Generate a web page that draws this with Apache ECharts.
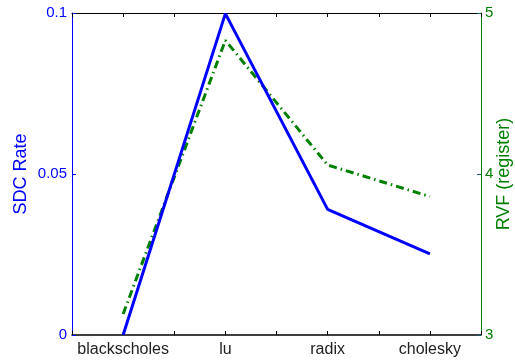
<!DOCTYPE html>
<html>
<head>
<meta charset="utf-8">
<script src="https://cdn.jsdelivr.net/npm/echarts@6/dist/echarts.min.js"></script>
<style>
  html, body { margin: 0; padding: 0; background: #fff; overflow: hidden; }
  #chart { width: 515px; height: 362px; }
</style>
</head>
<body>
<div id="chart"></div>
<script>
// Benchmarks along the x axis
const categories = ['blackscholes', 'lu', 'radix', 'cholesky'];
// Silent data corruption rate (left axis)
const sdcRate = [0, 0.0998, 0.039, 0.0252];
// Register vulnerability factor (right axis)
const rvfRegister = [3.13, 4.83, 4.056, 3.86];
// Tick settings
const leftTicks = { min: 0, max: 0.1, interval: 0.05 };
const rightTicks = { min: 3, max: 5, interval: 1 };

const FONT = 'Liberation Sans, Arial, sans-serif';
const BLUE = '#0000ff';
const GREEN = '#008000';

const chart = echarts.init(document.getElementById('chart'), null, { renderer: 'canvas' });

const xBase = {
  type: 'value',
  min: 0.5,
  max: 4.5,
  interval: 0.5,
  splitLine: { show: false },
  axisLine: { lineStyle: { color: '#000', width: 1.5 } },
  axisTick: { inside: true, length: 4, lineStyle: { color: '#000', width: 1 } }
};

chart.setOption({
  animation: false,
  grid: { left: 72, right: 34, top: 13, bottom: 27, containLabel: false, outerBoundsMode: 'none' },
  xAxis: [
    Object.assign({}, xBase, {
      position: 'bottom',
      axisLabel: {
        color: '#222',
        fontFamily: FONT,
        fontSize: 16,
        margin: 7,
        formatter: v => Number.isInteger(v) ? categories[v - 1] : ''
      }
    }),
    Object.assign({}, xBase, {
      position: 'top',
      axisLine: { lineStyle: { color: '#000', width: 1 } },
      axisLabel: { show: false }
    })
  ],
  yAxis: [
    {
      type: 'value',
      position: 'left',
      min: leftTicks.min,
      max: leftTicks.max,
      interval: leftTicks.interval,
      name: 'SDC Rate',
      nameLocation: 'middle',
      nameRotate: 90,
      nameGap: 42,
      nameMoveOverlap: false,
      nameTextStyle: { color: BLUE, fontFamily: FONT, fontSize: 18 },
      splitLine: { show: false },
      axisLine: { show: true, lineStyle: { color: BLUE, width: 1 } },
      axisTick: { show: true, inside: true, length: 4, lineStyle: { color: BLUE } },
      axisLabel: {
        color: BLUE, fontFamily: FONT, fontSize: 15, margin: 5,
        formatter: v => String(Math.round(v * 100) / 100)
      }
    },
    {
      type: 'value',
      position: 'right',
      min: rightTicks.min,
      max: rightTicks.max,
      interval: rightTicks.interval,
      name: 'RVF (register)',
      nameLocation: 'middle',
      nameRotate: 90,
      nameGap: 14,
      nameMoveOverlap: false,
      nameTextStyle: { color: GREEN, fontFamily: FONT, fontSize: 18 },
      splitLine: { show: false },
      axisLine: { show: true, lineStyle: { color: GREEN, width: 1 } },
      axisTick: { show: true, inside: true, length: 4, lineStyle: { color: '#1a5a6a' } },
      axisLabel: { color: GREEN, fontFamily: FONT, fontSize: 15, margin: 4 }
    }
  ],
  series: [
    {
      name: 'SDC Rate',
      type: 'line',
      xAxisIndex: 0,
      yAxisIndex: 0,
      symbol: 'none',
      data: sdcRate.map((v, i) => [i + 1, v]),
      lineStyle: { color: BLUE, width: 3 },
      z: 3
    },
    {
      name: 'RVF (register)',
      type: 'line',
      xAxisIndex: 0,
      yAxisIndex: 1,
      symbol: 'none',
      data: rvfRegister.map((v, i) => [i + 1, v]),
      lineStyle: { color: GREEN, width: 3, type: [8, 4, 1.5, 4] },
      z: 2
    }
  ]
});
</script>
</body>
</html>
